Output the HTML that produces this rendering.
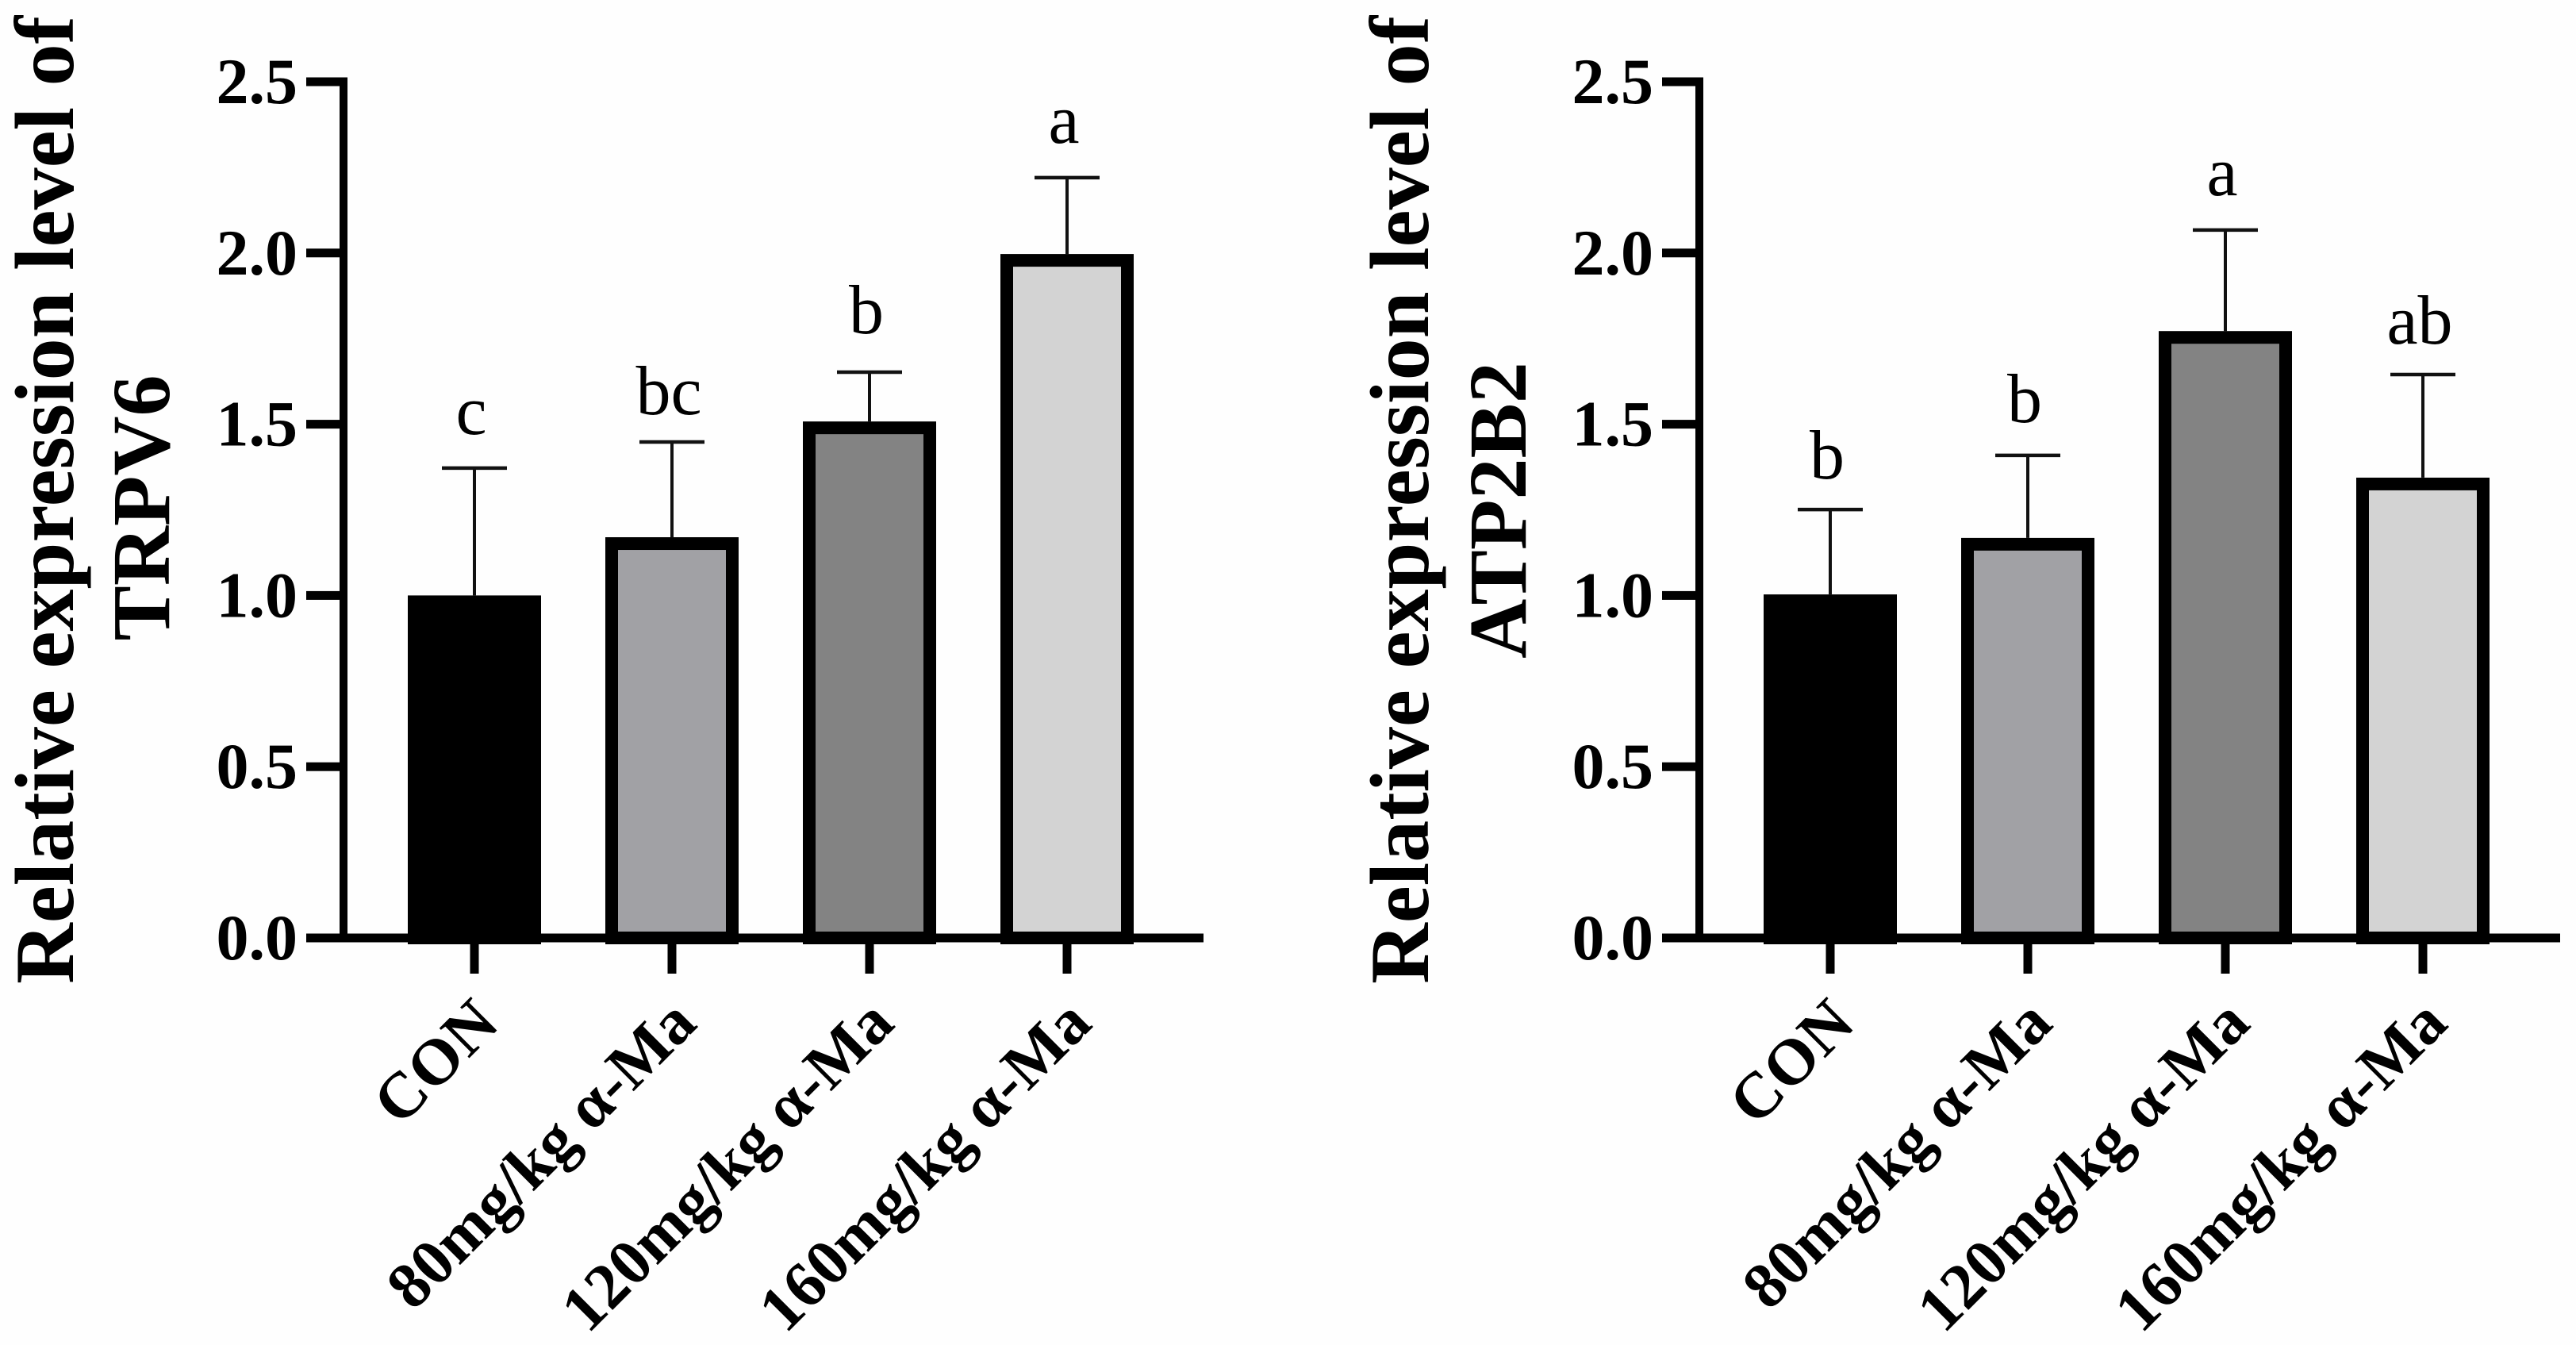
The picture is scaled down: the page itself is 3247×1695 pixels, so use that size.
<!DOCTYPE html>
<html lang="en">
<head>
<meta charset="utf-8">
<title>Relative expression of TRPV6 and ATP2B2</title>
<style>
html,body{margin:0;padding:0;background:#fff;}
svg{display:block;}
text{font-family:"Liberation Serif","Noto Serif CJK SC",serif;fill:#000;}
.bold{font-weight:bold;}
</style>
</head>
<body>
<svg id="figure" xmlns="http://www.w3.org/2000/svg" width="3247" height="1695" viewBox="0 0 3247 1695">
  <rect x="0" y="0" width="3247" height="1695" fill="#fefefe"/>
  <g id="chart-left">
    <text class="bold" font-size="106" text-anchor="middle" transform="translate(92,630) rotate(-90)">Relative expression level of</text>
    <text class="bold" font-size="104" text-anchor="middle" transform="translate(213,640) rotate(-90)">TRPV6</text>
  </g>
  <g id="chart-right">
    <text class="bold" font-size="106" text-anchor="middle" transform="translate(1800,630) rotate(-90)">Relative expression level of</text>
    <text class="bold" font-size="104" text-anchor="middle" transform="translate(1923,643) rotate(-90)">ATP2B2</text>
  </g>
</svg>
<script>
// Shared data
const categories = ['CON', '80mg/kg α-Ma', '120mg/kg α-Ma', '160mg/kg α-Ma'];
const yTickValues = [0, 0.5, 1, 1.5, 2, 2.5];
const yTickLabels = ['0.0', '0.5', '1.0', '1.5', '2.0', '2.5'];
const barFills = ['#000000', '#a1a1a5', '#838383', '#d3d3d3'];

// TRPV6 data
const trpv6Means = [1.0, 1.17, 1.508, 1.997];
const trpv6Upper = [1.372, 1.448, 1.652, 2.22];
const trpv6Letters = ['c', 'bc', 'b', 'a'];

// ATP2B2 data
const atp2b2Means = [1.003, 1.168, 1.772, 1.344];
const atp2b2Upper = [1.251, 1.409, 2.067, 1.645];
const atp2b2Letters = ['b', 'b', 'a', 'ab'];

const NS = 'http://www.w3.org/2000/svg';
const Y0 = 1182, PX_PER_UNIT = 431.6, BAR_W = 168, BORDER = 16, CAP_W = 82, STEP = 249;
const yScale = v => Y0 - v * PX_PER_UNIT;

function make(parent, tag, attrs, txt) {
  const el = document.createElementNS(NS, tag);
  for (const k in attrs) el.setAttribute(k, attrs[k]);
  if (txt !== undefined) el.textContent = txt;
  parent.appendChild(el);
  return el;
}

function drawChart(groupId, axisX, firstCat, axisEnd, means, upper, letters, letterGaps) {
  const g = document.getElementById(groupId);
  const xScale = i => firstCat + i * STEP;

  means.forEach((m, i) => {
    const cx = xScale(i), top = yScale(m), capY = yScale(upper[i]);
    const stem = make(g, 'line', { x1: cx, x2: cx, y1: capY, y2: top, stroke: '#111', 'stroke-width': 4 });
    
    
    const cap = make(g, 'line', { x1: cx - CAP_W / 2, x2: cx + CAP_W / 2, y1: capY, y2: capY, stroke: '#111', 'stroke-width': 4.5 });
    
    
    const bar = make(g, 'rect', {
      x: cx - BAR_W / 2 + BORDER / 2, y: top + BORDER / 2,
      width: BAR_W - BORDER, height: Math.max(0, Y0 - top - BORDER / 2),
      fill: barFills[i], stroke: '#000', 'stroke-width': BORDER
    });
    
    
    const letter = make(g, 'text', { x: cx - 4, y: capY - letterGaps[i], 'font-size': 88, 'text-anchor': 'middle' }, letters[i]);
    
    
  });

  const yAxis = make(g, 'rect', { x: axisX - 5, y: yScale(2.5) - 5.5, width: 10, height: Y0 - yScale(2.5) + 11, fill: '#000' });
  
  
  const xAxis = make(g, 'rect', { x: axisX - 47, y: Y0 - 5.5, width: axisEnd - axisX + 47, height: 11, fill: '#000' });
  
  

  yTickValues.forEach((v, i) => {
    const y = yScale(v);
    const tick = make(g, 'rect', { x: axisX - 47, y: y - 5.5, width: 47, height: 11, fill: '#000' });
    
    
    const label = make(g, 'text', { class: 'bold', x: axisX - 58, y: y + 27, 'font-size': 82, 'text-anchor': 'end' }, yTickLabels[i]);
    
    
  });

  categories.forEach((c, i) => {
    const cx = xScale(i);
    const tick = make(g, 'rect', { x: cx - 5.5, y: Y0, width: 11, height: 45, fill: '#000' });
    
    
    const label = make(g, 'text', {
      class: 'bold', 'font-size': 81.5, 'text-anchor': 'end',
      transform: 'translate(' + (cx + 34) + ',1293) rotate(-45)'
    }, c);
    
    
  });
}

drawChart('chart-left', 433, 598, 1517, trpv6Means, trpv6Upper, trpv6Letters, [43, 35, 49, 44]);
drawChart('chart-right', 2142, 2307, 3227, atp2b2Means, atp2b2Upper, atp2b2Letters, [39, 42, 44, 39]);
</script>
</body>
</html>
